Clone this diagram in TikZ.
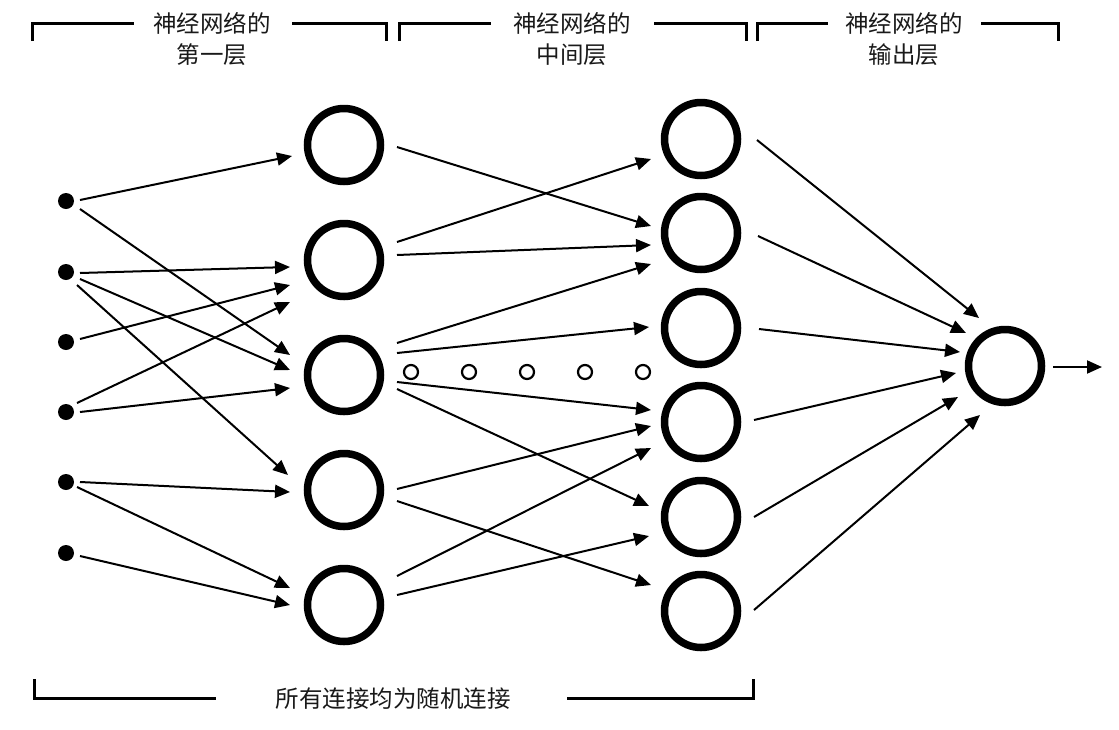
\documentclass[tikz,border=0pt]{standalone}
\usepackage{fontspec}
\setmainfont{Liberation Serif}
\newfontfamily\cjk{Noto Sans CJK SC}
\usetikzlibrary{arrows.meta,calc}
\begin{document}
\begin{tikzpicture}[x=1pt,y=-1pt,
  neuron/.style={circle,draw=black,line width=7.5pt,minimum size=73pt,inner sep=0pt},
  inp/.style={circle,fill=black,minimum size=16pt,inner sep=0pt},
  gapdot/.style={circle,draw=black,line width=2.2pt,minimum size=14pt,inner sep=0pt},
  arr/.style={line width=2pt,-{Triangle[length=15pt,width=13pt]}},
  brk/.style={line width=3pt},
  lbl/.style={font=\cjk\fontsize{23.5}{31}\selectfont,align=center,inner sep=0pt,text=black!90}
]
\useasboundingbox (0,0) rectangle (1119,729);

% input dots
\node[inp] (I1) at (66,201) {};
\node[inp] (I2) at (66,272) {};
\node[inp] (I3) at (66,342) {};
\node[inp] (I4) at (66,412) {};
\node[inp] (I5) at (66,482) {};
\node[inp] (I6) at (66,553) {};

% first layer
\node[neuron] (H1) at (344,145) {};
\node[neuron] (H2) at (344,260) {};
\node[neuron] (H3) at (344,375) {};
\node[neuron] (H4) at (344,490) {};
\node[neuron] (H5) at (344,605) {};

% middle layer
\node[neuron] (M1) at (701,139) {};
\node[neuron] (M2) at (701,233) {};
\node[neuron] (M3) at (701,328) {};
\node[neuron] (M4) at (701,422) {};
\node[neuron] (M5) at (701,517) {};
\node[neuron] (M6) at (701,611) {};

% output
\node[neuron] (O) at (1005,366) {};
\coordinate (out) at (1102,367);

% small hollow dots
\node[gapdot] (D1) at (411,372) {};
\node[gapdot] (D2) at (469,372) {};
\node[gapdot] (D3) at (527,372) {};
\node[gapdot] (D4) at (585,372) {};
\node[gapdot] (D5) at (643,372) {};

% input -> first layer
\draw[arr] ([shift={(14,-1)}]I1.center) -- ([shift={(-52,11)}]H1.center);
\draw[arr] ([shift={(14,8)}]I1.center) -- ([shift={(-54,-20)}]H3.center);
\draw[arr] ([shift={(14,1)}]I2.center) -- ([shift={(-54,7)}]H2.center);
\draw[arr] ([shift={(14,7)}]I2.center) -- ([shift={(-54,-5)}]H3.center);
\draw[arr] ([shift={(11,13)}]I2.center) -- ([shift={(-56,-15)}]H4.center);
\draw[arr] ([shift={(14,-3)}]I3.center) -- ([shift={(-54,25)}]H2.center);
\draw[arr] ([shift={(11,-9)}]I4.center) -- ([shift={(-54,42)}]H2.center);
\draw[arr] ([shift={(14,0)}]I4.center) -- ([shift={(-54,13)}]H3.center);
\draw[arr] ([shift={(14,0)}]I5.center) -- ([shift={(-54,2)}]H4.center);
\draw[arr] ([shift={(11,5)}]I5.center) -- ([shift={(-54,-17)}]H5.center);
\draw[arr] ([shift={(14,3)}]I6.center) -- ([shift={(-54,0)}]H5.center);

% first layer -> middle layer
\draw[arr] ([shift={(53,2)}]H1.center) -- ([shift={(-50,-7)}]M2.center);
\draw[arr] ([shift={(53,-18)}]H2.center) -- ([shift={(-50,20)}]M1.center);
\draw[arr] ([shift={(53,-5)}]H2.center) -- ([shift={(-50,12)}]M2.center);
\draw[arr] ([shift={(53,-32)}]H3.center) -- ([shift={(-50,31)}]M2.center);
\draw[arr] ([shift={(53,-22)}]H3.center) -- ([shift={(-52,-1)}]M3.center);
\draw[arr] ([shift={(53,7)}]H3.center) -- ([shift={(-50,-12)}]M4.center);
\draw[arr] ([shift={(53,14)}]H3.center) -- ([shift={(-52,-11)}]M5.center);
\draw[arr] ([shift={(53,-1)}]H4.center) -- ([shift={(-50,4)}]M4.center);
\draw[arr] ([shift={(53,11)}]H4.center) -- ([shift={(-50,-26)}]M6.center);
\draw[arr] ([shift={(53,-29)}]H5.center) -- ([shift={(-50,26)}]M4.center);
\draw[arr] ([shift={(53,-10)}]H5.center) -- ([shift={(-52,19)}]M5.center);

% middle layer -> output
\draw[arr] ([shift={(56,1)}]M1.center) -- ([shift={(-26,-48)}]O.center);
\draw[arr] ([shift={(57,3)}]M2.center) -- ([shift={(-39,-33)}]O.center);
\draw[arr] ([shift={(58,1)}]M3.center) -- ([shift={(-45,-14)}]O.center);
\draw[arr] ([shift={(53,-2)}]M4.center) -- ([shift={(-49,7)}]O.center);
\draw[arr] ([shift={(53,0)}]M5.center) -- ([shift={(-47,31)}]O.center);
\draw[arr] ([shift={(53,-1)}]M6.center) -- ([shift={(-25,49)}]O.center);
\draw[arr] ([shift={(48,1)}]O.center) -- (out);

% top labels
\node[lbl] (T1) at (212,39) {神经网络的\\第一层};
\node[lbl] (T2) at (572,39) {神经网络的\\中间层};
\node[lbl] (T3) at (904,39) {神经网络的\\输出层};
\node[lbl] (B1) at (393,699) {所有连接均为随机连接};

% brackets
\draw[brk] (32,41) -- (32,23) -- (134,23);
\draw[brk] (292,23) -- (386,23) -- (386,41);
\draw[brk] (399,41) -- (399,23) -- (491,23);
\draw[brk] (654,23) -- (746,23) -- (746,41);
\draw[brk] (757,41) -- (757,23) -- (828,23);
\draw[brk] (981,23) -- (1058,23) -- (1058,41);
\draw[brk] (34,679) -- (34,698) -- (216,698);
\draw[brk] (567,698) -- (753,698) -- (753,679);
\end{tikzpicture}
\end{document}
